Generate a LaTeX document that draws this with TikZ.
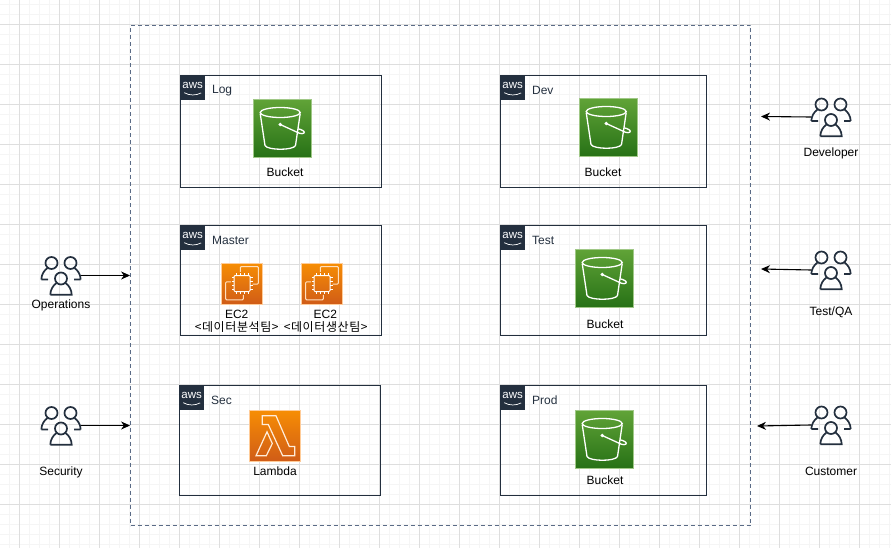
\documentclass[tikz,border=0pt]{standalone}
\usepackage{fontspec}
\setmainfont{Liberation Sans}
\newfontfamily\cjk[LetterSpace=5]{Noto Sans CJK KR}
\usetikzlibrary{positioning, arrows.meta, calc}
\definecolor{awsdark}{HTML}{232F3E}
\definecolor{outerline}{HTML}{5A6B86}
\definecolor{orangetop}{HTML}{F78E04}
\definecolor{orangebot}{HTML}{D05C17}
\definecolor{greentop}{HTML}{60A337}
\definecolor{greenbot}{HTML}{277116}
\tikzset{
	bucket/.pic={
		\draw [white, line width=1.3] (-2.3,-16) ellipse (20 and 5);
		\draw [white, line width=1.3] (-22.3,-15) -- (-17.5,17) .. controls (-15,22) and (11,22) .. (13,17) -- (17.7,-15);
		\fill [white] (-2.3,-4) circle (1.9);
		\draw [white, line width=1.3] (-2.3,-4) -- (17,4.8) .. controls (21,6) and (23,4) .. (21,2.5) .. controls (19.5,1.2) and (17,0.6) .. (15.5,0.3);
	},
	chip/.pic={
		\draw [white, line width=1, rounded corners=1] (-8,-8) rectangle (8,8);
		\foreach \p in {-6,-2,2,6} {
			\draw [white, line width=0.7] (\p,-8) -- (\p,-10.5) (\p,8) -- (\p,10.5) (-8,\p) -- (-10.5,\p) (8,\p) -- (10.5,\p);
		}
		\draw [white!75!orange, line width=1, rounded corners=1] (-1.7,-11.7) -- (-1.7,-17) -- (16.3,-17) -- (16.3,0.7) -- (10.7,0.7);
		\draw [white!75!orange, line width=1, rounded corners=1] (-11,-1.7) -- (-16.3,-1.7) -- (-16.3,16.3) -- (1.3,16.3) -- (1.3,11.3);
	},
	lambda/.pic={
		\draw [white!85!orange, line width=1.2] (-12.7,-19.7) -- (1,-19.7) -- (14.3,11) -- (19.7,11) -- (19.7,20.3) -- (7.7,20.3) -- (-6.7,-11) -- (-12.7,-11) -- cycle;
		\draw [white!85!orange, line width=1.2] (-8,-3.7) -- (-2.7,8) -- (-8.7,20.3) -- (-19,20.3) -- cycle;
	},
	people/.pic={
		\draw [awsdark, line width=1.7] (-9.5,-12.5) circle (6) (9.5,-12.5) circle (6) (0,3) circle (6);
		\draw [awsdark, line width=1.7] (-19.7,4) -- (-13,4) (-19.7,4) .. controls (-19.5,-1) and (-17,-5) .. (-13.5,-7.5);
		\draw [awsdark, line width=1.7] (19.7,4) -- (13,4) (19.7,4) .. controls (19.5,-1) and (17,-5) .. (13.5,-7.5);
		\draw [awsdark, line width=1.7] (-10.7,19.2) -- (10.7,19.2) .. controls (10.5,14) and (8,10) .. (4.5,7.5) (-10.7,19.2) .. controls (-10.5,14) and (-8,10) .. (-4.5,7.5);
	},
	awslogo/.pic={
		\node [text=white, inner sep=0, font=\fontsize{11.5}{11}\selectfont] at (0,-1.8) {aws};
		\draw [white, line width=0.7] (-8.5,5) .. controls (-3,8) and (3,8) .. (8.5,5.2);
	}
}
\begin{document}
\begin{tikzpicture}[x=1pt,y=-1pt]
	\tikzstyle{account} = [draw=awsdark, line width=1, inner sep=0]
	\tikzstyle{outer} = [draw=outerline, line width=0.9, dash pattern=on 4pt off 3pt, inner sep=0, minimum width=620, minimum height=500]
	\tikzstyle{tag} = [fill=awsdark, inner sep=0, minimum size=25]
	\tikzstyle{title} = [text=awsdark, anchor=west, inner sep=0, font=\fontsize{12}{12}\selectfont]
	\tikzstyle{caption} = [text=black, inner sep=0, font=\fontsize{12}{12}\selectfont]
	\tikzstyle{team} = [text=black, inner sep=0, font=\fontsize{12}{12}\selectfont\cjk]
	\tikzstyle{s3} = [inner sep=0, minimum size=58, draw=greentop!60!white, line width=0.4, top color=greentop, bottom color=greenbot]
	\tikzstyle{orangeicon} = [inner sep=0, draw=orange!40, line width=0.4, top color=orangetop, bottom color=orangebot]
	\tikzstyle{user} = [inner sep=0, minimum size=40]
	\tikzstyle{stealth} = [-{Stealth[length=9pt,width=8pt]}, line width=1.1, black]
	\useasboundingbox (0,0) rectangle (891,548);
	% grid
	\foreach \x in {9.5,19.5,...,889.5} {\draw [black!4, line width=0.8] (\x,0) -- (\x,548);}
	\foreach \y in {4.5,14.5,...,544.5} {\draw [black!4, line width=0.8] (0,\y) -- (891,\y);}
	\foreach \x in {19.5,59.5,...,859.5} {\draw [black!13, line width=0.8] (\x,0) -- (\x,548);}
	\foreach \y in {24.5,64.5,...,504.5} {\draw [black!13, line width=0.8] (0,\y) -- (891,\y);}
	% region
	\node [outer] (v_outer) at (440.5,275.5) {};
	% accounts
	\node [account, minimum width=201, minimum height=112] (v_log) at (281,131.5) {};
	\node [account, minimum width=206, minimum height=112] (v_dev) at (603.5,131.5) {};
	\node [account, minimum width=200.5, minimum height=110] (v_master) at (280.75,280.5) {};
	\node [account, minimum width=206, minimum height=110] (v_test) at (603.5,280.5) {};
	\node [account, minimum width=201, minimum height=110] (v_sec) at (280,440.5) {};
	\node [account, minimum width=206, minimum height=110] (v_prod) at (603.5,440.5) {};
	\foreach \n/\t in {log/Log,dev/Dev,master/Master,test/Test,sec/Sec,prod/Prod} {
		\node [tag, anchor=north west] (tag_\n) at (v_\n.north west) {};
		\pic at (tag_\n.center) {awslogo};
		\node [title] (title_\n) at ($(tag_\n.east)+(6.5,2.7)$) {\t};
	}
	% buckets
	\node [s3] (s3_log) at (282.5,128.5) {};
	\node [s3] (s3_dev) at (608.5,127.5) {};
	\node [s3] (s3_test) at (604.5,278.5) {};
	\node [s3] (s3_prod) at (604.5,439.5) {};
	\foreach \n in {log,dev,test,prod} {\pic at (s3_\n.center) {bucket};}
	\node [caption] (c_log) at (285,172) {Bucket};
	\node [caption] (c_dev) at (603,172) {Bucket};
	\node [caption] (c_test) at (605,324) {Bucket};
	\node [caption] (c_prod) at (605,480) {Bucket};
	% ec2
	\node [orangeicon, minimum size=41] (ec2_a) at (242,283.5) {};
	\node [orangeicon, minimum size=41] (ec2_b) at (322,283.5) {};
	\pic at (ec2_a.center) {chip};
	\pic at (ec2_b.center) {chip};
	\node [caption] (c_ec2a) at (236.7,314) {EC2};
	\node [caption] (c_ec2b) at (325.3,314) {EC2};
	\node [team] (c_teama) at (236.7,327) {<데이터분석팀>};
	\node [team] (c_teamb) at (325.7,327) {<데이터생산팀>};
	% lambda
	\node [orangeicon, minimum size=51] (v_lambda) at (275,435.5) {};
	\pic at (v_lambda.center) {lambda};
	\node [caption] (c_lambda) at (275,471) {Lambda};
	% users
	\node [user] (u_ops) at (61,275.5) {};
	\node [user] (u_sec) at (61,425.5) {};
	\node [user] (u_dev) at (831,117) {};
	\node [user] (u_test) at (831,270) {};
	\node [user] (u_cust) at (831,425) {};
	\foreach \n in {ops,sec,dev,test,cust} {\pic at (u_\n.center) {people};}
	\node [caption] (c_ops) at (61,305) {Operations};
	\node [caption] (c_usec) at (61,472) {Security};
	\node [caption] (c_udev) at (831,153) {Developer};
	\node [caption] (c_utest) at (831,312) {Test/QA};
	\node [caption] (c_cust) at (831,471) {Customer};
	% arrows
	\coordinate (e_dev) at (761,116.5);
	\coordinate (e_test) at (761,269);
	\coordinate (e_cust) at (757,426);
	\draw [stealth] (u_ops.east) -- (u_ops.east -| v_outer.west);
	\draw [stealth] (u_sec.east) -- (u_sec.east -| v_outer.west);
	\draw [stealth] (u_dev.west) -- (e_dev);
	\draw [stealth] (u_test.west) -- (e_test);
	\draw [stealth] (u_cust.west) -- (e_cust);
\end{tikzpicture}
\end{document}
